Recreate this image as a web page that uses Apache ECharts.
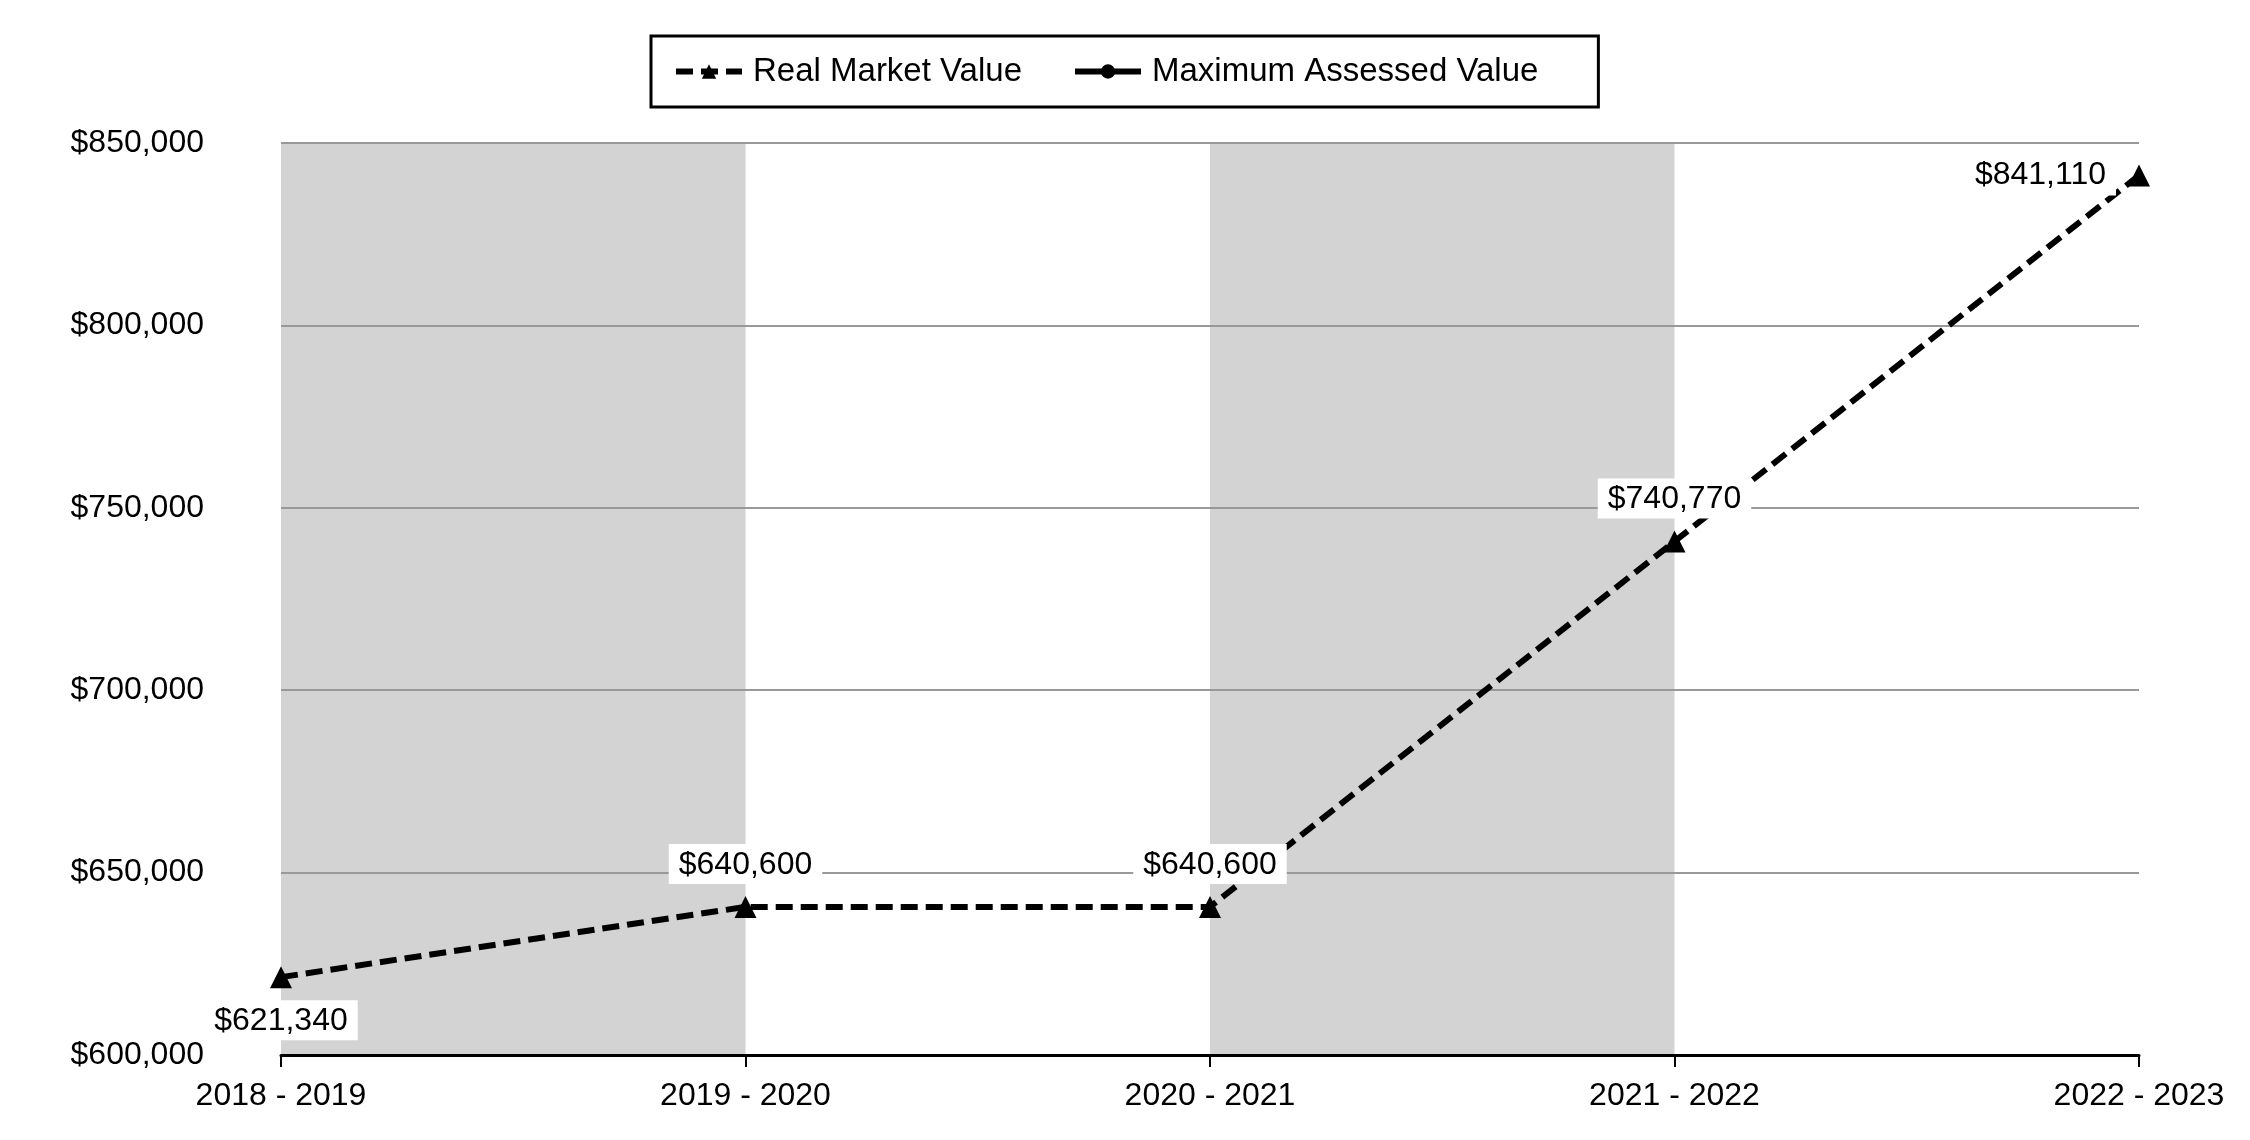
<!DOCTYPE html>
<html>
<head>
<meta charset="utf-8">
<script src="https://cdn.jsdelivr.net/npm/echarts@6/dist/echarts.min.js"></script>
<style>html,body{margin:0;padding:0;background:#fff}#c{width:2250px;height:1140px}</style>
</head>
<body>
<div id="c"></div>
<script>
const categories = ['2018 - 2019', '2019 - 2020', '2020 - 2021', '2021 - 2022', '2022 - 2023'];
const realMarketValue = [621340, 640600, 640600, 740770, 841110];
const maxAssessedValue = [null, null, null, null, null];
const labelPositions = ['bottom', 'top', 'top', 'top', 'left'];

const FONT = 'Liberation Sans, Arial, sans-serif';
function money(v) { return '$' + String(v).replace(/\B(?=(\d{3})+(?!\d))/g, ','); }

const chart = echarts.init(document.getElementById('c'));
chart.setOption({
  animation: false,
  backgroundColor: '#fff',
  textStyle: { fontFamily: FONT, color: '#000' },
  legend: {
    top: 36,
    left: 651,
    padding: [19, 60, 19, 22],
    borderColor: '#000',
    borderWidth: 3,
    itemGap: 50,
    itemWidth: 66,
    itemHeight: 18,
    lineStyle: { width: 6 },
    textStyle: { fontFamily: FONT, fontSize: 33, color: '#000', padding: [0, 0, 0, 6] },
    data: ['Real Market Value', 'Maximum Assessed Value']
  },
  grid: { left: 281, right: 111, top: 143, bottom: 85 },
  xAxis: [
    {
      type: 'category',
      data: categories,
      boundaryGap: false,
      position: 'bottom',
      z: 0,
      axisLine: { show: false },
      axisTick: { show: false },
      axisLabel: { fontFamily: FONT, fontSize: 32, color: '#000', margin: 25 },
      splitLine: { show: false },
      splitArea: { show: true, areaStyle: { color: ['#d3d3d3', 'rgba(255,255,255,0)'] } }
    },
    {
      type: 'category',
      data: categories,
      boundaryGap: false,
      position: 'bottom',
      offset: 0,
      z: 3,
      axisLine: { show: true, lineStyle: { color: '#000', width: 3 } },
      axisTick: { show: true, length: 12, lineStyle: { color: '#000', width: 2 } },
      axisLabel: { show: false },
      splitLine: { show: false },
      splitArea: { show: false }
    }
  ],
  yAxis: {
    type: 'value',
    min: 600000,
    max: 850000,
    interval: 50000,
    z: 1,
    axisLine: { show: false },
    axisTick: { show: false },
    axisLabel: { fontFamily: FONT, fontSize: 32, color: '#000', margin: 77, formatter: money },
    splitLine: { lineStyle: { color: '#999', width: 2 } }
  },
  series: [
    {
      name: 'Real Market Value',
      type: 'line',
      xAxisIndex: 0,
      data: realMarketValue.map((v, i) => ({
        value: v,
        label: { position: labelPositions[i] }
      })),
      symbol: 'triangle',
      symbolSize: 22,
      itemStyle: { color: '#000' },
      lineStyle: { color: '#000', width: 6, type: [17, 8] },
      label: {
        show: true,
        fontFamily: FONT,
        fontSize: 32,
        color: '#000',
        backgroundColor: '#fff',
        padding: [5, 10, 3, 10],
        distance: 12,
        formatter: p => money(p.value)
      },
      z: 5
    },
    {
      name: 'Maximum Assessed Value',
      type: 'line',
      xAxisIndex: 0,
      data: maxAssessedValue,
      symbol: 'circle',
      symbolSize: 18,
      itemStyle: { color: '#000' },
      lineStyle: { color: '#000', width: 6, type: 'solid' }
    }
  ]
});
</script>
</body>
</html>
